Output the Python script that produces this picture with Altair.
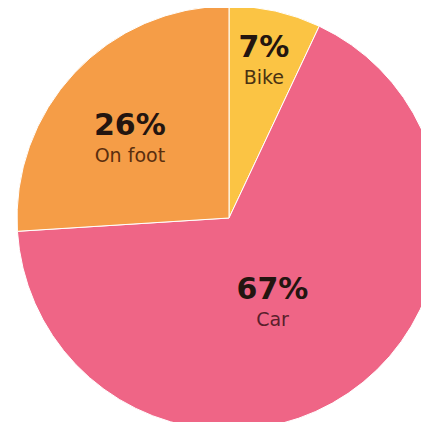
import altair as alt
import pandas as pd

categories = ["Bike", "Car", "On foot"]
shares = [7, 67, 26]
order = [0, 1, 2]
colors = ["#FBC444", "#EF6586", "#F59D47"]

df = pd.DataFrame({"category": categories, "share": shares, "order": order})

base = alt.Chart(df).transform_window(
    cum="sum(share)", sort=[alt.SortField("order")], frame=[None, 0]
).transform_calculate(
    start="datum.cum - datum.share",
    mid="datum.cum - datum.share / 2",
    pct="datum.share + '%'",
)

theta_scale = alt.Scale(domain=[0, 100])
CX, CY = 221, 210

arcs = base.mark_arc(outerRadius=212, stroke="white", strokeWidth=1).encode(
    theta=alt.Theta("start:Q", scale=theta_scale),
    theta2="cum:Q",
    color=alt.Color("category:N", scale=alt.Scale(domain=categories, range=colors), legend=None),
    x=alt.value(CX),
    y=alt.value(CY),
)

# radius, dx, dy, label colour
label_layout = {
    "Bike": (160, 0, 1, "#4a3212"),
    "Car": (97, -11, 7, "#5a1f2c"),
    "On foot": (125, -8, 9, "#5a2e0e"),
}

layers = [arcs]
for cat in categories:
    r, dx, dy, lc = label_layout[cat]
    sub = base.transform_filter(alt.datum.category == cat)
    enc = dict(
        theta=alt.Theta("mid:Q", scale=theta_scale),
        x=alt.value(CX),
        y=alt.value(CY),
    )
    pct = sub.mark_text(
        radius=r, dx=dx, dy=dy - 15, font="DejaVu Sans", fontSize=30, fontWeight="bold",
        color="#231510", baseline="middle", align="center",
    ).encode(text="pct:N", **enc)
    lab = sub.mark_text(
        radius=r, dx=dx, dy=dy + 15, font="DejaVu Sans", fontSize=19, fontWeight=400,
        color=lc, baseline="middle", align="center",
    ).encode(text="category:N", **enc)
    layers += [pct, lab]

chart = alt.layer(*layers).properties(
    width=413, height=414, padding=0, autosize=alt.AutoSizeParams(type="none"),
    background="white",
).configure_view(stroke=None)

chart.save("out.html", embed_options={"renderer": "svg", "actions": False})
